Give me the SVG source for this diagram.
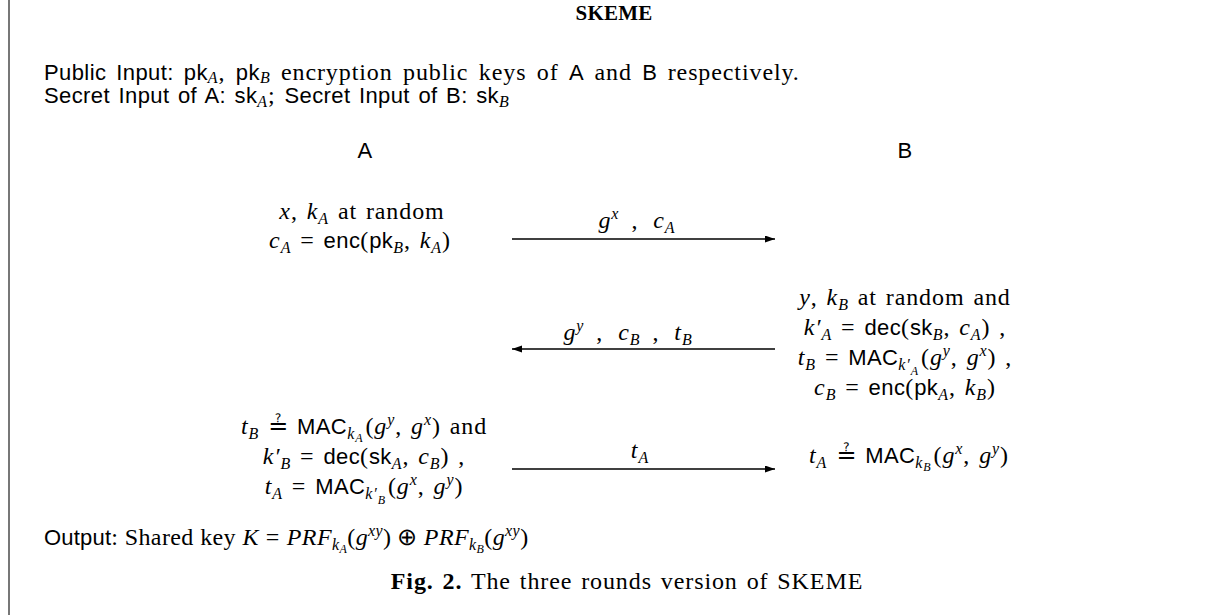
<svg xmlns="http://www.w3.org/2000/svg" width="1226" height="615" viewBox="0 0 1226 615">
<defs>
<style>
text{font-family:"Liberation Serif","Times New Roman",serif;font-size:24px;letter-spacing:0.9px;word-spacing:2px;fill:#000}
.s{font-family:"Liberation Sans",Arial,sans-serif;font-size:22px;letter-spacing:0.4px}
.i{font-style:italic}
.b{font-weight:bold}
.q{font-family:"DejaVu Serif","DejaVu Sans",serif;letter-spacing:0}
.m{text-anchor:middle}
.c{stroke:#000;stroke-width:1.3;fill:none}
</style>
<marker id="ah" markerWidth="11" markerHeight="8" refX="10" refY="3.5" orient="auto" markerUnits="userSpaceOnUse">
<path d="M0,0 L10,3.5 L0,7 Z" fill="#000"/>
</marker>
</defs>
<rect width="1226" height="615" fill="#fff"/>
<line x1="9" y1="0" x2="9" y2="615" stroke="#777" stroke-width="2"/>

<g id="title"><text class="m b" x="614" y="20" style="font-size:21px;letter-spacing:0.2px">SKEME</text></g>

<g id="inputs">
<text x="44" y="80" style="word-spacing:3.5px"><tspan class="s">Public Input: pk</tspan><tspan class="i" font-size="16" dy="3">A</tspan><tspan dy="-3">, </tspan><tspan class="s">pk</tspan><tspan class="i" font-size="16" dy="3">B</tspan><tspan dy="-3"> encryption public keys of </tspan><tspan class="s">A</tspan> and <tspan class="s">B</tspan> respectively.</text>
<text x="44" y="103"><tspan class="s">Secret Input of A: sk</tspan><tspan class="i" font-size="16" dy="4">A</tspan><tspan dy="-4">; </tspan><tspan class="s">Secret Input of B: sk</tspan><tspan class="i" font-size="16" dy="4">B</tspan></text>
</g>

<g id="party-A"><text class="m s" x="365" y="158">A</text></g>
<g id="party-B"><text class="m s" x="905" y="158">B</text></g>

<g id="A-step1">
<text class="m" x="362" y="219"><tspan class="i">x</tspan>, <tspan class="i">k</tspan><tspan class="i" font-size="16" dy="5">A</tspan><tspan dy="-5"> at random</tspan></text>
<text class="m" x="360" y="248"><tspan class="i">c</tspan><tspan class="i" font-size="16" dy="5">A</tspan><tspan dy="-5"> = </tspan><tspan class="s">enc</tspan>(<tspan class="s">pk</tspan><tspan class="i" font-size="16" dy="5">B</tspan><tspan dy="-5">, </tspan><tspan class="i">k</tspan><tspan class="i" font-size="16" dy="5">A</tspan><tspan dy="-5">)</tspan></text>
</g>

<g id="B-step2">
<text class="m" x="905" y="305"><tspan class="i">y</tspan>, <tspan class="i">k</tspan><tspan class="i" font-size="16" dy="5">B</tspan><tspan dy="-5"> at random and</tspan></text>
<text class="m" x="905" y="335"><tspan class="i">k′</tspan><tspan class="i" font-size="16" dy="5">A</tspan><tspan dy="-5"> = </tspan><tspan class="s">dec</tspan>(<tspan class="s">sk</tspan><tspan class="i" font-size="16" dy="5">B</tspan><tspan dy="-5">, </tspan><tspan class="i">c</tspan><tspan class="i" font-size="16" dy="5">A</tspan><tspan dy="-5">) ,</tspan></text>
<text class="m" x="905" y="365"><tspan class="i">t</tspan><tspan class="i" font-size="16" dy="5">B</tspan><tspan dy="-5"> = </tspan><tspan class="s">MAC</tspan><tspan class="i" font-size="16" dy="5">k′</tspan><tspan class="i" font-size="12" dy="5">A</tspan><tspan dy="-10" dx="2">(</tspan><tspan class="i">g</tspan><tspan class="i" font-size="16" dy="-9">y</tspan><tspan dy="9">, </tspan><tspan class="i">g</tspan><tspan class="i" font-size="16" dy="-9">x</tspan><tspan dy="9">) ,</tspan></text>
<text class="m" x="905" y="395"><tspan class="i">c</tspan><tspan class="i" font-size="16" dy="5">B</tspan><tspan dy="-5"> = </tspan><tspan class="s">enc</tspan>(<tspan class="s">pk</tspan><tspan class="i" font-size="16" dy="5">A</tspan><tspan dy="-5">, </tspan><tspan class="i">k</tspan><tspan class="i" font-size="16" dy="5">B</tspan><tspan dy="-5">)</tspan></text>
</g>

<g id="A-step3">
<text class="m" x="364" y="434"><tspan class="i">t</tspan><tspan class="i" font-size="16" dy="5">B</tspan><tspan dy="-5"> </tspan><tspan class="q">≟</tspan> <tspan class="s">MAC</tspan><tspan class="i" font-size="16" dy="5">k</tspan><tspan class="i" font-size="12" dy="3">A</tspan><tspan dy="-8" dx="2">(</tspan><tspan class="i">g</tspan><tspan class="i" font-size="16" dy="-9">y</tspan><tspan dy="9">, </tspan><tspan class="i">g</tspan><tspan class="i" font-size="16" dy="-9">x</tspan><tspan dy="9">) and</tspan></text>
<text class="m" x="364" y="464"><tspan class="i">k′</tspan><tspan class="i" font-size="16" dy="5">B</tspan><tspan dy="-5"> = </tspan><tspan class="s">dec</tspan>(<tspan class="s">sk</tspan><tspan class="i" font-size="16" dy="5">A</tspan><tspan dy="-5">, </tspan><tspan class="i">c</tspan><tspan class="i" font-size="16" dy="5">B</tspan><tspan dy="-5">) ,</tspan></text>
<text class="m" x="364" y="494"><tspan class="i">t</tspan><tspan class="i" font-size="16" dy="5">A</tspan><tspan dy="-5"> = </tspan><tspan class="s">MAC</tspan><tspan class="i" font-size="16" dy="5">k′</tspan><tspan class="i" font-size="12" dy="5">B</tspan><tspan dy="-10" dx="2">(</tspan><tspan class="i">g</tspan><tspan class="i" font-size="16" dy="-9">x</tspan><tspan dy="9">, </tspan><tspan class="i">g</tspan><tspan class="i" font-size="16" dy="-9">y</tspan><tspan dy="9">)</tspan></text>
</g>

<g id="B-step3">
<text class="m" x="909" y="463"><tspan class="i">t</tspan><tspan class="i" font-size="16" dy="5">A</tspan><tspan dy="-5"> </tspan><tspan class="q">≟</tspan> <tspan class="s">MAC</tspan><tspan class="i" font-size="16" dy="5">k</tspan><tspan class="i" font-size="12" dy="3">B</tspan><tspan dy="-8" dx="2">(</tspan><tspan class="i">g</tspan><tspan class="i" font-size="16" dy="-9">x</tspan><tspan dy="9">, </tspan><tspan class="i">g</tspan><tspan class="i" font-size="16" dy="-9">y</tspan><tspan dy="9">)</tspan></text>
</g>

<g id="connectors">
<line class="c" x1="512" y1="239" x2="775" y2="239" marker-end="url(#ah)"/>
<text class="m" x="637" y="228"><tspan class="i">g</tspan><tspan class="i" font-size="16" dy="-9">x</tspan><tspan dy="9" dx="12">,</tspan><tspan class="i" dx="15">c</tspan><tspan class="i" font-size="16" dy="5">A</tspan></text>
<line class="c" x1="775" y1="349" x2="512" y2="349" marker-end="url(#ah)"/>
<text class="m" x="628" y="340"><tspan class="i">g</tspan><tspan class="i" font-size="16" dy="-9">y</tspan><tspan dy="9" dx="12">,</tspan><tspan class="i" dx="15">c</tspan><tspan class="i" font-size="16" dy="5">B</tspan><tspan dy="-5" dx="12">,</tspan><tspan class="i" dx="15">t</tspan><tspan class="i" font-size="16" dy="5">B</tspan></text>
<line class="c" x1="512" y1="469" x2="775" y2="469" marker-end="url(#ah)"/>
<text class="m" x="640" y="458"><tspan class="i">t</tspan><tspan class="i" font-size="16" dy="5">A</tspan></text>
</g>

<g id="output">
<text x="44" y="545" style="letter-spacing:0.4px;word-spacing:0"><tspan class="s" style="letter-spacing:0.2px">Output</tspan>: Shared key <tspan class="i">K</tspan><tspan dx="7">=</tspan><tspan class="i" dx="7">PRF</tspan><tspan class="i" font-size="16" dy="5">k</tspan><tspan class="i" font-size="12" dy="3">A</tspan><tspan dy="-8">(</tspan><tspan class="i">g</tspan><tspan class="i" font-size="16" dy="-9">xy</tspan><tspan dy="9">)</tspan><tspan dx="6">⊕</tspan><tspan class="i" dx="6">PRF</tspan><tspan class="i" font-size="16" dy="5">k</tspan><tspan class="i" font-size="12" dy="3">B</tspan><tspan dy="-8">(</tspan><tspan class="i">g</tspan><tspan class="i" font-size="16" dy="-9">xy</tspan><tspan dy="9">)</tspan></text>
</g>

<g id="caption">
<text class="m" x="627" y="589"><tspan class="b">Fig. 2.</tspan> The three rounds version of SKEME</text>
</g>
</svg>
